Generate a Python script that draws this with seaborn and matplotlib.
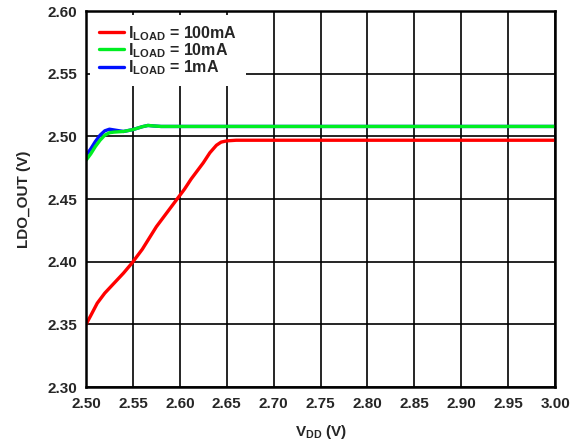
import numpy as np
import pandas as pd

import seaborn as sns
import matplotlib.pyplot as plt
from matplotlib.lines import Line2D


# LDO output vs supply voltage, one curve per load current
vdd_100ma = [2.500, 2.505, 2.512, 2.520, 2.530, 2.540, 2.549, 2.560, 2.575, 2.590,
             2.597, 2.605, 2.612, 2.618, 2.625, 2.632, 2.639, 2.644, 2.650, 2.660,
             2.700, 2.800, 2.900, 3.000]
out_100ma = [2.350, 2.357, 2.367, 2.375, 2.383, 2.391, 2.399, 2.410, 2.428, 2.443,
             2.450, 2.458, 2.466, 2.472, 2.479, 2.487, 2.493, 2.4955, 2.4965, 2.497,
             2.497, 2.497, 2.497, 2.497]

vdd_10ma = [2.500, 2.505, 2.510, 2.515, 2.520, 2.525, 2.530, 2.540, 2.550,
            2.560, 2.566, 2.572, 2.580, 2.700, 3.000]
out_10ma = [2.481, 2.486, 2.492, 2.497, 2.501, 2.503, 2.5035, 2.504, 2.5055,
            2.5078, 2.5088, 2.5084, 2.508, 2.508, 2.508]

vdd_1ma = [2.500, 2.505, 2.510, 2.515, 2.520, 2.525, 2.530, 2.540, 2.550,
           2.560, 2.566, 2.572, 2.580, 2.700, 3.000]
out_1ma = [2.485, 2.490, 2.496, 2.501, 2.5045, 2.5058, 2.5052, 2.504, 2.5055,
           2.5078, 2.5088, 2.5084, 2.508, 2.508, 2.508]

labels = [r"$\mathrm{I_{LOAD}}$ = 100mA", r"$\mathrm{I_{LOAD}}$ = 10mA",
          r"$\mathrm{I_{LOAD}}$ = 1mA"]
colors = ["#ff0000", "#00ee22", "#0011ff"]

sns.set_style("white")
plt.rcParams["font.family"] = ["Liberation Sans", "DejaVu Sans"]
plt.rcParams["font.weight"] = "bold"
plt.rcParams["mathtext.fontset"] = "custom"
plt.rcParams["mathtext.rm"] = "Liberation Sans:bold"
plt.rcParams["mathtext.it"] = "Liberation Sans:bold"
plt.rcParams["mathtext.bf"] = "Liberation Sans:bold"

fig = plt.figure(figsize=(5.85, 4.46), dpi=100)
ax = fig.add_axes([0.147, 0.132, 0.802, 0.843])

# blue under green, red on top
sns.lineplot(x=vdd_1ma, y=out_1ma, color=colors[2], linewidth=2.4, sort=False, ax=ax)
sns.lineplot(x=vdd_10ma, y=out_10ma, color=colors[1], linewidth=2.4, sort=False, ax=ax)
sns.lineplot(x=vdd_100ma, y=out_100ma, color=colors[0], linewidth=2.4, sort=False, ax=ax)

ax.set_xlim(2.50, 3.00)
ax.set_ylim(2.30, 2.60)
ax.set_xticks(np.arange(2.50, 3.001, 0.05))
ax.set_yticks(np.arange(2.30, 2.601, 0.05))
ax.xaxis.set_major_formatter(plt.FormatStrFormatter("%.2f"))
ax.yaxis.set_major_formatter(plt.FormatStrFormatter("%.2f"))
ax.tick_params(axis="x", length=0, labelsize=11, pad=7)
ax.tick_params(axis="y", length=0, labelsize=11, pad=6.5)
ax.grid(True, color="black", linewidth=1.2)
ax.set_axisbelow(True)
for s in ax.spines.values():
    s.set_color("black")
    s.set_linewidth(1.8)

ax.set_xlabel(r"$\mathrm{V_{DD}}$ (V)", fontsize=11, fontweight="bold", labelpad=9)
ax.set_ylabel("LDO_OUT (V)", fontsize=11, fontweight="bold", labelpad=12)

handles = [Line2D([], [], color=c, linewidth=2.4) for c in colors]
leg = ax.legend(handles, labels, loc="upper left", bbox_to_anchor=(0.0, 1.0),
                borderaxespad=0.25, borderpad=0.55, frameon=True, fancybox=False,
                framealpha=1, edgecolor="none", facecolor="white",
                handlelength=1.55, handletextpad=0.3, labelspacing=-0.1,
                prop={"weight": "bold", "size": 11.5})
leg.set_zorder(5)

fig.savefig("out.png", dpi=100)
